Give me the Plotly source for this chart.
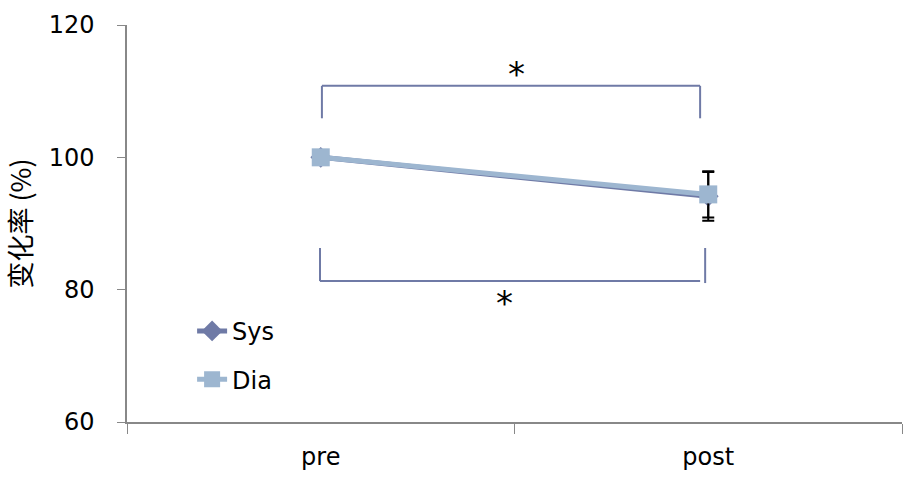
import plotly.graph_objects as go

categories = ["pre", "post"]
sys_vals = [100, 94.1]
sys_err = [0, 3.7]
dia_vals = [100, 94.4]
dia_err = [0, 3.5]
y_ticks = [60, 80, 100, 120]

SYS_C = "#6f7aa6"
DIA_C = "#9db6d0"
FONT = "DejaVu Sans"

fig = go.Figure()
fig.add_trace(go.Scatter(
    x=categories, y=sys_vals, name="Sys", mode="lines+markers",
    line=dict(color=SYS_C, width=5),
    marker=dict(symbol="diamond", size=16, color=SYS_C),
    error_y=dict(type="data", array=sys_err, color="black", thickness=2, width=6),
    legendgroup="a",
))
fig.add_trace(go.Scatter(
    x=categories, y=dia_vals, name="Dia", mode="lines+markers",
    line=dict(color=DIA_C, width=5),
    marker=dict(symbol="square", size=18, color=DIA_C),
    error_y=dict(type="data", array=dia_err, color="black", thickness=2, width=6),
    legendgroup="b",
))

br = dict(color=SYS_C, width=2)
# top bracket
fig.add_shape(type="line", xref="x", yref="y", x0=0.003, x1=0.003, y0=105.9, y1=110.8, line=br)
fig.add_shape(type="line", xref="x", yref="y", x0=0.003, x1=0.979, y0=110.8, y1=110.8, line=br)
fig.add_shape(type="line", xref="x", yref="y", x0=0.979, x1=0.979, y0=110.8, y1=105.9, line=br)
# bottom bracket
fig.add_shape(type="line", xref="x", yref="y", x0=-0.002, x1=-0.002, y0=86.3, y1=81.3, line=br)
fig.add_shape(type="line", xref="x", yref="y", x0=-0.002, x1=0.979, y0=81.3, y1=81.3, line=br)
fig.add_shape(type="line", xref="x", yref="y", x0=0.992, x1=0.992, y0=86.3, y1=81.0, line=br)

fig.add_annotation(x=0.506, y=112.6, xref="x", yref="y", text="*", showarrow=False,
                   font=dict(family=FONT, size=34, color="black"))
fig.add_annotation(x=0.475, y=78.0, xref="x", yref="y", text="*", showarrow=False,
                   font=dict(family=FONT, size=34, color="black"))

fig.update_layout(
    width=905, height=477,
    margin=dict(l=127, r=3, t=25, b=55),
    paper_bgcolor="white", plot_bgcolor="white",
    font=dict(family=FONT, size=24, color="black"),
    showlegend=True,
    legend=dict(x=0.084, y=0.285, xanchor="left", yanchor="top",
                bgcolor="rgba(0,0,0,0)", tracegroupgap=14,
                font=dict(family=FONT, size=24)),
    xaxis=dict(type="category", range=[-0.5, 1.5], tickson="boundaries",
               ticks="outside", ticklen=10, tickcolor="#888", showline=True,
               linecolor="#888", linewidth=1.5, showgrid=False, zeroline=False,
               ticklabelstandoff=12,
               tickfont=dict(family=FONT, size=24)),
    yaxis=dict(range=[60, 120], tickvals=y_ticks, ticks="outside", ticklen=8,
               tickcolor="#888", showline=True, linecolor="#888", linewidth=1.5,
               showgrid=False, zeroline=False, ticklabelstandoff=18,
               title=dict(text="变化率 (%)", standoff=14,
                          font=dict(family="Noto Sans CJK SC", size=27)),
               tickfont=dict(family=FONT, size=24)),
)

fig.write_html("out.html")
